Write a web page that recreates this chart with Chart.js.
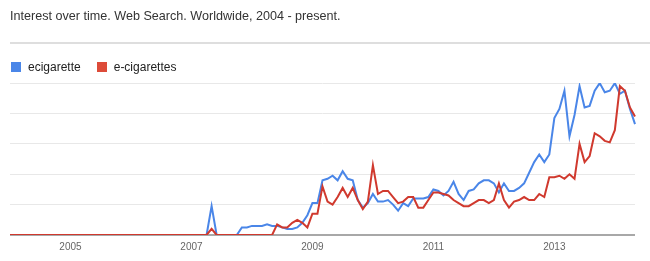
<!DOCTYPE html>
<html><head><meta charset="utf-8">
<script src="https://cdn.jsdelivr.net/npm/chart.js@4.4.0/dist/chart.umd.min.js"></script>
<style>
html,body{margin:0;padding:0;background:#fff;}
#wrap{position:relative;width:650px;height:261px;overflow:hidden;}
#sep{position:absolute;left:10px;right:0;top:42px;height:2px;background:#dedede;}
#legend{position:absolute;left:11px;top:61px;font:12px "Liberation Sans",Arial,sans-serif;color:#222;display:flex;line-height:12px;}
.item{display:flex;align-items:center;margin-right:16px;}
.box{width:10px;height:10px;margin-right:7px;}
canvas{position:absolute;left:0;top:0;}
</style></head><body>
<div id="wrap"><canvas id="c" width="650" height="261"></canvas><div id="sep"></div><div id="legend"></div></div>
<script>
const titleText = 'Interest over time. Web Search. Worldwide, 2004 - present.';
const seriesNames = ['ecigarette', 'e-cigarettes'];
const tickLabels = ['2005', '2007', '2009', '2011', '2013'];
const startYear = 2004, endYear = 2014, endMonth = 5;
const months = [];
for (let y = startYear; y <= endYear; y++) {
  for (let m = 1; m <= 12; m++) {
    if (y === endYear && m > endMonth) break;
    months.push(y + '-' + String(m).padStart(2, '0'));
  }
}
const ecigarette = [
  0,0,0,0,0,0,0,0,0,0, 0,0,0,0,0,0,0,0,0,0,
  0,0,0,0,0,0,0,0,0,0, 0,0,0,0,0,0,0,0,0,0,
  19,0,0,0,0,0,5,5,6,6, 6,7,6,6,5,4,4,5,8,13,
  21,21,36,37,39,36,42,37,36,23, 18,21,27,22,22,23,20,16,21,19,
  24,24,24,25,30,29,26,29,35,27, 23,29,30,34,36,36,34,28,34,29,
  29,31,34,41,48,53,48,53,77,83, 95,65,79,98,84,85,95,100,94,95,
  100,93,95,83,73
];
const eCigarettes = [
  0,0,0,0,0,0,0,0,0,0, 0,0,0,0,0,0,0,0,0,0,
  0,0,0,0,0,0,0,0,0,0, 0,0,0,0,0,0,0,0,0,0,
  4,0,0,0,0,0,0,0,0,0, 0,0,0,7,5,5,8,10,8,5,
  14,14,32,22,20,25,31,25,31,23, 17,22,46,27,29,29,25,21,22,25,
  25,18,18,23,28,28,27,26,23,21, 19,19,21,23,23,21,23,34,23,18,
  22,23,25,23,23,27,25,38,38,39, 37,40,37,60,48,52,67,65,62,61,
  69,98,95,84,78
];
const BLUE = '#4a86e8', RED = '#d0392e';
const font = '"Liberation Sans", Arial, sans-serif';

const htmlLegend = {
  id: 'htmlLegend',
  afterUpdate(chart) {
    const el = document.getElementById('legend');
    el.innerHTML = '';
    const items = Chart.defaults.plugins.legend.labels.generateLabels(chart)
      .sort((a, b) => a.datasetIndex - b.datasetIndex);
    items.forEach(it => {
      const d = document.createElement('div'); d.className = 'item';
      const b = document.createElement('span'); b.className = 'box';
      b.style.background = chart.data.datasets[it.datasetIndex].legendColor;
      const t = document.createElement('span'); t.textContent = it.text;
      d.appendChild(b); d.appendChild(t); el.appendChild(d);
    });
  }
};

new Chart(document.getElementById('c'), {
  type: 'line',
  data: {
    labels: months,
    datasets: [
      { label: seriesNames[0], data: ecigarette, borderColor: BLUE, backgroundColor: BLUE, legendColor: '#4a86e8', borderWidth: 2, pointRadius: 0, tension: 0, order: 1 },
      { label: seriesNames[1], data: eCigarettes, borderColor: RED, backgroundColor: RED, legendColor: '#dd4b39', borderWidth: 2, pointRadius: 0, tension: 0, order: 0 }
    ]
  },
  options: {
    responsive: false,
    animation: false,
    layout: { padding: { left: 10, right: 15, top: 0, bottom: 2 } },
    plugins: {
      legend: { display: false },
      tooltip: { enabled: false },
      title: {
        display: true, text: titleText, align: 'start', color: '#333',
        font: { family: font, size: 12.6, weight: 'normal' },
        padding: { top: 9, bottom: 59 }
      }
    },
    scales: {
      x: {
        type: 'category',
        grid: { display: false, drawTicks: false },
        border: { display: false },
        ticks: {
          autoSkip: false, maxRotation: 0, padding: 6, color: '#666',
          font: { family: font, size: 10 },
          callback: function (v, i) {
            const lab = months[i];
            const y = lab.slice(0, 4);
            return (lab.endsWith('-01') && tickLabels.includes(y)) ? y : '';
          }
        }
      },
      y: {
        min: 0, max: 100,
        ticks: { display: false, stepSize: 20 },
        grid: {
          drawTicks: false,
          color: c => c.tick.value === 0 ? '#a8a8a8' : '#e8e8e8',
          lineWidth: c => c.tick.value === 0 ? 2 : 1
        },
        border: { display: false }
      }
    }
  },
  plugins: [htmlLegend]
});
</script>
</body></html>
